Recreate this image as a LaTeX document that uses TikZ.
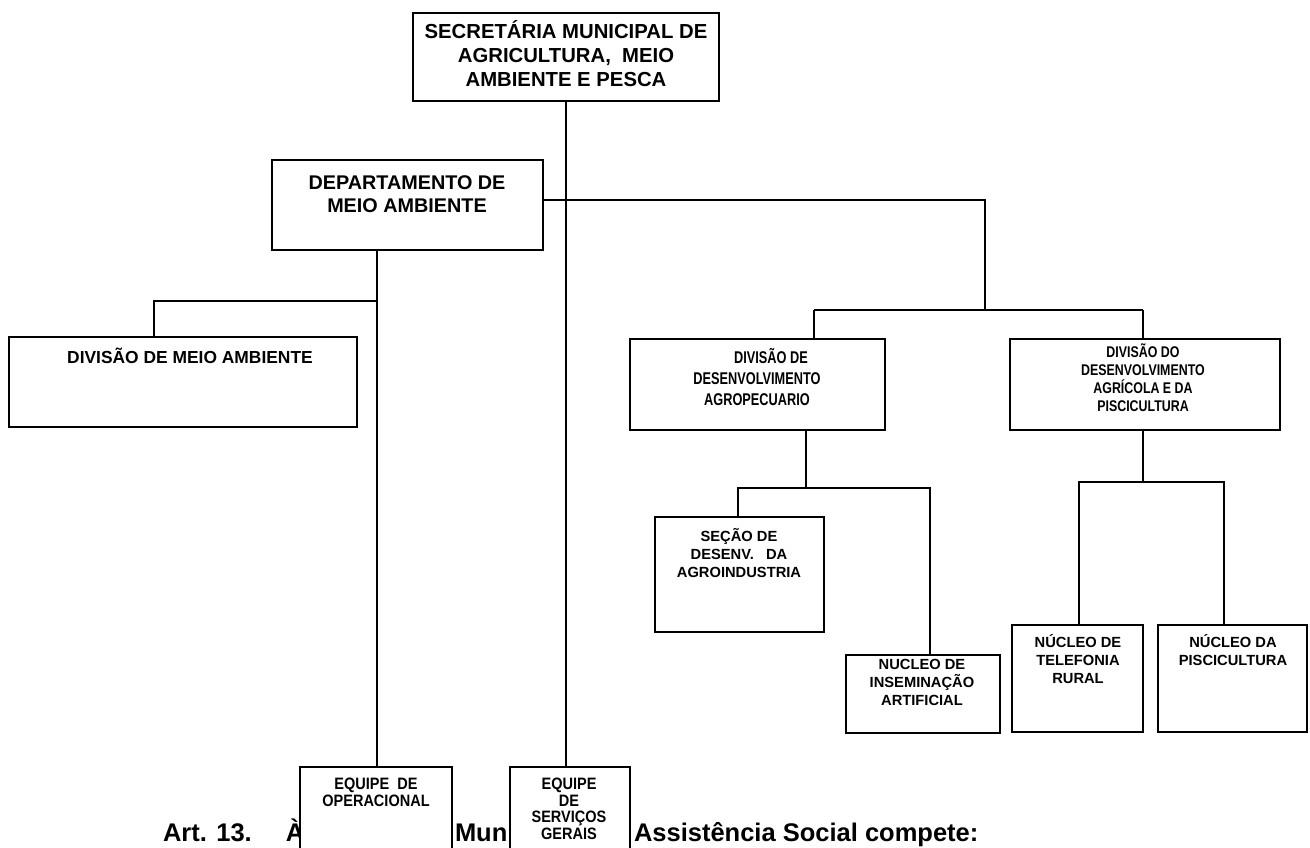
\documentclass[tikz,border=0pt]{standalone}
\usepackage{fontspec}
\setmainfont{Liberation Sans}
\newfontfamily\narA{Liberation Sans}[FakeStretch=0.75]
\newfontfamily\narB{Liberation Sans}[FakeStretch=0.8]
\newfontfamily\narC{Liberation Sans}[FakeStretch=0.88]
\tikzset{
  box/.style={draw=black, line width=1.5pt, fill=white, inner sep=0pt, outer sep=0pt},
  lbl/.style={inner sep=0pt, outer sep=0pt, align=center, anchor=north},
  wire/.style={draw=black, line width=1.5pt},
  art/.style={inner sep=0pt, outer sep=0pt, font=\bfseries\fontsize{25.5}{30}\selectfont}
}
\begin{document}
\begin{tikzpicture}[x=1pt,y=-1pt]
\useasboundingbox (0,0) rectangle (1310,847);
\clip (0,0) rectangle (1310,847);

% article heading, partly hidden behind the two team boxes
\node[art, anchor=base west] (art1) at (163,841) {Art. 13.\hspace{34pt}À};
\node[art, anchor=base west] (art2) at (455,841) {Mun};
\node[art, anchor=base west] (art3) at (634,841) {Assistência Social compete:};

% boxes
\node[box, minimum width=306pt, minimum height=88pt] (sec) at (566,57) {};
\node[box, minimum width=271pt, minimum height=90pt] (dept) at (407.5,205) {};
\node[box, minimum width=348pt, minimum height=90pt] (dma) at (183,382) {};
\node[box, minimum width=255pt, minimum height=91pt] (dagro) at (757.5,384.5) {};
\node[box, minimum width=270pt, minimum height=91pt] (dagri) at (1145,384.5) {};
\node[box, minimum width=169pt, minimum height=115pt] (secao) at (739.5,574.5) {};
\node[box, minimum width=154pt, minimum height=78pt] (nins) at (923,694) {};
\node[box, minimum width=131pt, minimum height=107pt] (ntel) at (1077.5,678.5) {};
\node[box, minimum width=149pt, minimum height=107pt] (npis) at (1232.5,678.5) {};
\node[box, minimum width=152pt, minimum height=113pt] (eop) at (376,823.5) {};
\node[box, minimum width=120pt, minimum height=113pt] (esg) at (570,823.5) {};

% box texts
\node[lbl, font=\bfseries\fontsize{20.3}{24}\selectfont] (sec-t) at (566,21)
  {SECRETÁRIA MUNICIPAL DE\\AGRICULTURA,\ \ MEIO\\AMBIENTE E PESCA};
\node[lbl, font=\bfseries\fontsize{19.8}{23}\selectfont] (dept-t) at (407,176)
  {DEPARTAMENTO DE\\MEIO AMBIENTE};
\node[lbl, anchor=base, font=\bfseries\fontsize{17.4}{21}\selectfont] (dma-t) at (190,363)
  {DIVISÃO DE MEIO AMBIENTE};
\node[lbl, font=\narA\bfseries\fontsize{17}{21}\selectfont] (dagro-t) at (757,348.5)
  {\hspace*{28pt}DIVISÃO DE\\DESENVOLVIMENTO\\AGROPECUARIO};
\node[lbl, font=\narB\bfseries\fontsize{15.5}{18}\selectfont] (dagri-t) at (1143,343.5)
  {DIVISÃO DO\\DESENVOLVIMENTO\\AGRÍCOLA E DA\\PISCICULTURA};
\node[lbl, font=\bfseries\fontsize{14.7}{18}\selectfont] (secao-t) at (739,528.7)
  {SEÇÃO DE\\DESENV.\ \ \ DA\\AGROINDUSTRIA};
\node[lbl, font=\bfseries\fontsize{14.7}{18}\selectfont] (nins-t) at (922,659.7)
  {NUCLEO DE\\INSEMINAÇÃO\\ARTIFICIAL};
\node[lbl, font=\bfseries\fontsize{14.7}{18}\selectfont] (ntel-t) at (1078,634.7)
  {NÚCLEO DE\\TELEFONIA\\RURAL};
\node[lbl, font=\bfseries\fontsize{14.7}{18}\selectfont] (npis-t) at (1233,634.7)
  {NÚCLEO DA\\PISCICULTURA};
\node[lbl, font=\narC\bfseries\fontsize{16.5}{17}\selectfont] (eop-t) at (376,778)
  {EQUIPE\ \ DE\\OPERACIONAL};
\node[lbl, font=\narC\bfseries\fontsize{16.5}{16.5}\selectfont] (esg-t) at (569,778)
  {EQUIPE\\DE\\SERVIÇOS\\GERAIS};

% connectors
\draw[wire] (sec.south) -- (sec.south |- esg.north);

\coordinate (hub) at (985,200);
\coordinate (bar) at (985,310);
\coordinate (agroTop) at (814,310);
\coordinate (agriTop) at (1143,310);
\draw[wire] (dept.east |- hub) -- (hub) -- (bar);
\draw[wire] (agroTop) -- (agriTop);
\draw[wire] (agroTop) -- (agroTop |- dagro.north);
\draw[wire] (agriTop) -- (agriTop |- dagri.north);

\coordinate (deptStem) at (377,301);
\coordinate (dmaTop) at (154,301);
\draw[wire] (deptStem |- dept.south) -- (deptStem |- eop.north);
\draw[wire] (deptStem) -- (dmaTop) -- (dmaTop |- dma.north);

\coordinate (agroStem) at (806,488);
\coordinate (secTop) at (738,488);
\coordinate (insTop) at (930,488);
\draw[wire] (agroStem |- dagro.south) -- (agroStem);
\draw[wire] (secTop |- secao.north) -- (secTop) -- (insTop) -- (insTop |- nins.north);

\coordinate (agriStem) at (1143,482);
\coordinate (telTop) at (1079,482);
\coordinate (pisTop) at (1224,482);
\draw[wire] (agriStem |- dagri.south) -- (agriStem);
\draw[wire] (telTop |- ntel.north) -- (telTop) -- (pisTop) -- (pisTop |- npis.north);
\end{tikzpicture}
\end{document}
